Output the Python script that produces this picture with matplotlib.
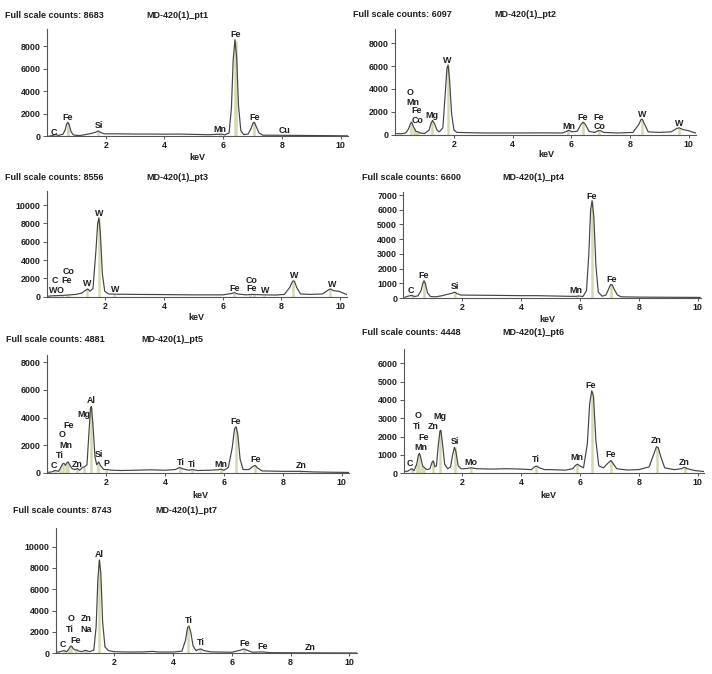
import matplotlib
matplotlib.use("Agg")
import matplotlib.pyplot as plt

# EDS spectra MD-420(1) pt1..pt7
# spectrum points: (keV, counts)
pt1_spectrum = [(0.05, 0), (0.15, 50), (0.28, 150), (0.4, 80), (0.55, 200), (0.62, 600), (0.67, 1100),
                (0.71, 1250), (0.76, 1000), (0.82, 400), (0.9, 120), (1.1, 60), (1.3, 150), (1.5, 250),
                (1.65, 350), (1.74, 480), (1.82, 350), (1.95, 220), (2.5, 220), (3, 200), (3.5, 200),
                (4, 190), (4.5, 200), (5, 170), (5.5, 140), (5.85, 180), (5.95, 200), (6.05, 120),
                (6.2, 300), (6.28, 2500), (6.34, 6800), (6.40, 8600), (6.46, 7000), (6.52, 2800),
                (6.6, 500), (6.7, 150), (6.85, 200), (6.95, 700), (7.02, 1200), (7.06, 1250),
                (7.12, 900), (7.22, 300), (7.35, 100), (8.0, 90), (8.5, 80), (9, 70), (9.5, 60), (10.25, 40)]
pt2_spectrum = [(0.05, 100), (0.2, 80), (0.35, 150), (0.45, 500), (0.52, 1000), (0.56, 1100), (0.62, 700),
                (0.7, 300), (0.78, 250), (0.85, 150), (1.0, 100), (1.15, 400), (1.22, 1000), (1.27, 1250),
                (1.33, 1000), (1.42, 400), (1.5, 250), (1.62, 600), (1.70, 3500), (1.76, 5800), (1.80, 6100),
                (1.85, 4800), (1.92, 1800), (2.0, 400), (2.1, 200), (3, 150), (4, 150), (5, 160), (5.7, 150),
                (5.85, 300), (5.92, 400), (6.0, 250), (6.2, 300), (6.33, 900), (6.40, 1100), (6.48, 900),
                (6.6, 300), (6.8, 200), (6.92, 350), (7.0, 350), (7.1, 200), (7.6, 150), (8.1, 200),
                (8.3, 900), (8.38, 1350), (8.42, 1350), (8.5, 900), (8.62, 250), (9.0, 200), (9.4, 250),
                (9.6, 550), (9.68, 600), (9.8, 450), (10.0, 350), (10.1, 250), (10.25, 150)]
pt3_spectrum = [(0.05, 50), (0.2, 100), (0.4, 120), (0.6, 150), (0.8, 200), (1.0, 250), (1.2, 400),
                (1.33, 700), (1.40, 850), (1.48, 600), (1.58, 900), (1.68, 5000), (1.74, 8000), (1.78, 8600),
                (1.83, 7000), (1.90, 2500), (1.98, 600), (2.1, 300), (2.3, 280), (3, 250), (4, 230), (5, 200),
                (6, 200), (6.3, 350), (6.40, 450), (6.5, 300), (6.8, 200), (7.0, 250), (7.4, 200), (7.8, 180),
                (8.1, 250), (8.28, 1000), (8.38, 1700), (8.44, 1700), (8.52, 1000), (8.65, 300), (9.0, 250),
                (9.4, 300), (9.58, 700), (9.67, 850), (9.78, 650), (9.95, 600), (10.1, 400), (10.25, 200)]
pt4_spectrum = [(0.05, 50), (0.15, 120), (0.28, 180), (0.38, 100), (0.5, 150), (0.6, 500), (0.66, 1000),
                (0.70, 1180), (0.75, 950), (0.82, 350), (0.92, 100), (1.1, 80), (1.3, 150), (1.5, 250),
                (1.66, 330), (1.74, 400), (1.82, 300), (1.95, 200), (2.5, 190), (3, 180), (3.5, 170),
                (4, 160), (4.5, 160), (5, 140), (5.5, 120), (5.85, 110), (5.95, 140), (6.1, 100), (6.22, 500),
                (6.3, 3000), (6.36, 6000), (6.41, 6620), (6.47, 5500), (6.54, 2200), (6.62, 400), (6.75, 120),
                (6.88, 200), (6.98, 650), (7.04, 920), (7.09, 900), (7.16, 600), (7.27, 200), (7.4, 80),
                (8, 60), (9, 50), (10.08, 40)]
pt5_spectrum = [(0.05, 50), (0.15, 80), (0.28, 180), (0.38, 120), (0.45, 350), (0.52, 650), (0.57, 700),
                (0.62, 550), (0.67, 750), (0.71, 800), (0.76, 600), (0.85, 300), (0.95, 250), (1.02, 330),
                (1.1, 200), (1.2, 400), (1.27, 450), (1.35, 600), (1.42, 3000), (1.47, 4700), (1.50, 4800),
                (1.55, 3600), (1.62, 1200), (1.68, 600), (1.75, 800), (1.82, 500), (1.92, 250), (2.02, 250),
                (2.2, 200), (2.5, 180), (3, 200), (3.5, 230), (4, 200), (4.35, 250), (4.5, 400), (4.6, 300),
                (4.8, 200), (4.93, 250), (5.1, 180), (5.5, 200), (5.8, 230), (5.9, 280), (6.0, 200),
                (6.15, 400), (6.28, 1800), (6.36, 3200), (6.41, 3350), (6.47, 2800), (6.55, 1000),
                (6.65, 250), (6.85, 250), (7.0, 500), (7.06, 550), (7.15, 350), (7.3, 150), (8, 120),
                (8.6, 120), (9, 80), (9.5, 60), (10.25, 40)]
pt6_spectrum = [(0.05, 100), (0.15, 120), (0.28, 250), (0.36, 150), (0.45, 500), (0.5, 950), (0.54, 1090),
                (0.58, 900), (0.65, 400), (0.72, 300), (0.8, 200), (0.9, 250), (0.97, 600), (1.01, 680),
                (1.07, 350), (1.12, 400), (1.18, 1500), (1.24, 2300), (1.27, 2350), (1.32, 1700), (1.4, 500),
                (1.5, 250), (1.6, 350), (1.67, 1000), (1.73, 1420), (1.78, 1200), (1.86, 400), (1.96, 250),
                (2.1, 250), (2.3, 300), (2.5, 250), (3, 230), (3.5, 250), (4, 230), (4.35, 200), (4.45, 350),
                (4.52, 400), (4.62, 300), (4.8, 200), (5, 200), (5.5, 170), (5.75, 250), (5.86, 450),
                (5.92, 500), (6.0, 400), (6.12, 300), (6.25, 1600), (6.33, 3800), (6.40, 4500), (6.46, 4200),
                (6.54, 1800), (6.64, 400), (6.8, 300), (6.95, 550), (7.05, 700), (7.12, 550), (7.25, 250),
                (7.6, 180), (8.0, 200), (8.35, 350), (8.5, 1000), (8.6, 1450), (8.66, 1400), (8.75, 900),
                (8.88, 300), (9.2, 200), (9.45, 250), (9.55, 330), (9.65, 250), (9.9, 150), (10.2, 100)]
pt7_spectrum = [(0.05, 100), (0.15, 150), (0.28, 250), (0.38, 150), (0.45, 400), (0.5, 650), (0.54, 680),
                (0.6, 450), (0.66, 300), (0.72, 320), (0.8, 200), (0.9, 150), (1.0, 280), (1.06, 250),
                (1.15, 150), (1.3, 300), (1.38, 2500), (1.44, 7000), (1.49, 8750), (1.54, 7500), (1.60, 3000),
                (1.68, 600), (1.8, 250), (2.0, 150), (2.5, 120), (3, 130), (3.3, 180), (3.5, 120), (4, 120),
                (4.3, 200), (4.42, 1200), (4.49, 2400), (4.54, 2560), (4.6, 2000), (4.68, 700), (4.78, 250),
                (4.88, 380), (4.95, 400), (5.05, 250), (5.3, 130), (6, 100), (6.3, 300), (6.4, 400),
                (6.5, 300), (6.7, 100), (7.06, 130), (7.3, 60), (8, 50), (9, 40), (10.25, 30)]

# element marker lines: (keV, counts)
pt1_markers = [(0.28, 120), (0.70, 1230), (0.73, 1150), (1.74, 450), (5.9, 190), (6.39, 8600), (6.42, 8500),
               (7.06, 1240), (8.04, 85)]
pt2_markers = [(0.52, 1000), (0.64, 600), (0.71, 300), (0.78, 250), (1.25, 1230), (1.78, 6000), (5.9, 400),
               (6.40, 1100), (6.93, 350), (8.40, 1350), (9.67, 600)]
pt3_markers = [(0.28, 100), (0.52, 140), (0.70, 190), (0.77, 200), (1.38, 850), (1.78, 8600), (2.3, 280),
               (6.40, 450), (6.93, 240), (7.06, 250), (7.4, 200), (8.40, 1700), (9.67, 850)]
pt4_markers = [(0.28, 170), (0.70, 1150), (1.74, 400), (5.9, 110), (6.40, 6600), (7.06, 900)]
pt5_markers = [(0.28, 170), (0.45, 350), (0.52, 650), (0.64, 600), (0.70, 800), (1.01, 330), (1.25, 440),
               (1.49, 4800), (1.74, 800), (2.01, 250), (4.51, 400), (4.93, 250), (5.9, 280), (6.40, 3350),
               (7.06, 550), (8.63, 110)]
pt6_markers = [(0.28, 250), (0.45, 500), (0.52, 1050), (0.64, 400), (0.70, 300), (1.01, 680), (1.25, 2350),
               (1.74, 1420), (2.29, 300), (4.51, 400), (5.9, 500), (6.40, 4500), (7.06, 700), (8.63, 1450),
               (9.57, 330)]
pt7_markers = [(0.28, 250), (0.45, 400), (0.52, 680), (0.70, 320), (1.01, 280), (1.04, 260), (1.49, 8750),
               (4.51, 2500), (4.93, 400), (6.40, 400), (7.06, 130), (8.63, 50)]

# element labels: (text, keV, counts at label centre)
pt1_labels = [("C", 0.22, 380), ("Fe", 0.69, 1700), ("Si", 1.76, 920), ("Mn", 5.9, 620),
              ("Fe", 6.41, 9100), ("Fe", 7.07, 1630), ("Cu", 8.08, 500)]
pt2_labels = [("O", 0.5, 3700), ("Mn", 0.6, 2860), ("Fe", 0.71, 2100), ("Co", 0.76, 1260),
              ("Mg", 1.24, 1640), ("W", 1.77, 6470), ("Mn", 5.91, 760), ("Fe", 6.38, 1520),
              ("Fe", 6.94, 1520), ("Co", 6.96, 700), ("W", 8.42, 1810), ("W", 9.66, 1000)]
pt3_labels = [("W", 0.21, 650), ("O", 0.46, 650), ("C", 0.29, 1740), ("Fe", 0.68, 1740),
              ("Co", 0.74, 2730), ("W", 1.39, 1460), ("W", 1.80, 9100), ("W", 2.33, 800),
              ("Fe", 6.42, 910), ("Co", 6.99, 1740), ("Fe", 6.99, 840), ("W", 7.45, 730),
              ("W", 8.44, 2330), ("W", 9.72, 1380)]
pt4_labels = [("C", 0.25, 480), ("Fe", 0.68, 1520), ("Si", 1.75, 750), ("Mn", 5.86, 480),
              ("Fe", 6.41, 6930), ("Fe", 7.07, 1290)]
pt5_labels = [("C", 0.24, 530), ("Ti", 0.44, 1300), ("Mn", 0.63, 2020), ("O", 0.5, 2750),
              ("Fe", 0.72, 3420), ("Zn", 1.02, 650), ("Mg", 1.23, 4240), ("Al", 1.49, 5270),
              ("Si", 1.76, 1370), ("P", 2.02, 700), ("Ti", 4.52, 770), ("Ti", 4.91, 630),
              ("Mn", 5.91, 650), ("Fe", 6.41, 3740), ("Fe", 7.07, 940), ("Zn", 8.63, 530)]
pt6_labels = [("C", 0.22, 510), ("Mn", 0.60, 1400), ("Fe", 0.68, 1960), ("Ti", 0.45, 2580),
              ("O", 0.5, 3130), ("Zn", 1.02, 2540), ("Mg", 1.24, 3100), ("Si", 1.75, 1720),
              ("Mo", 2.29, 580), ("Ti", 4.50, 730), ("Mn", 5.88, 870), ("Fe", 6.36, 4780),
              ("Fe", 7.04, 1000), ("Zn", 8.60, 1780), ("Zn", 9.54, 600)]
pt7_labels = [("C", 0.24, 780), ("O", 0.51, 3280), ("Ti", 0.49, 2250), ("Fe", 0.69, 1180),
              ("Zn", 1.03, 3280), ("Na", 1.03, 2250), ("Al", 1.49, 9280), ("Ti", 4.54, 3120),
              ("Ti", 4.95, 990), ("Fe", 6.42, 940), ("Fe", 7.05, 620), ("Zn", 8.66, 560)]

full_scale = [8683, 6097, 8556, 6600, 4881, 4448, 8743]
names = ["MD-420(1)_pt1", "MD-420(1)_pt2", "MD-420(1)_pt3", "MD-420(1)_pt4",
         "MD-420(1)_pt5", "MD-420(1)_pt6", "MD-420(1)_pt7"]
y_top = [9550, 9250, 11530, 7225, 8530, 6764, 11716]
x_right = [10.25, 10.25, 10.25, 10.1, 10.23, 10.2, 10.25]
y_step = [2000, 2000, 2000, 1000, 2000, 1000, 2000]
y_last = [8000, 8000, 10000, 7000, 8000, 6000, 10000]

spectra = [pt1_spectrum, pt2_spectrum, pt3_spectrum, pt4_spectrum, pt5_spectrum, pt6_spectrum, pt7_spectrum]
markers = [pt1_markers, pt2_markers, pt3_markers, pt4_markers, pt5_markers, pt6_markers, pt7_markers]
labels = [pt1_labels, pt2_labels, pt3_labels, pt4_labels, pt5_labels, pt6_labels, pt7_labels]

# layout in pixels: axes (left, top, right, bottom), header line y, header x's, keV label pos
W, H = 712, 674
boxes = [(47, 29, 348, 136.3), (395.3, 29, 696, 134.7), (46.6, 191, 347.5, 296.7),
         (403.4, 191.7, 700.7, 298), (47.2, 355, 348.5, 473), (403.5, 349.3, 703.5, 473.3),
         (55.6, 528.3, 356.7, 653.3)]
head_y = [15, 14.5, 177.3, 177.7, 339.3, 332.3, 510.7]
head_x1 = [5, 353, 5, 361.7, 6, 361.7, 13.3]
head_x2 = [146, 494, 146, 502.7, 141.7, 502.7, 155]
kev_pos = [(197, 157), (546, 154.3), (196.7, 317.3), (547.3, 319.3), (200, 496), (548, 495), None]

font = "Liberation Sans"
txt = "#1e1e1e"

fig = plt.figure(figsize=(W / 100, H / 100), dpi=100)

for i in range(7):
    l, t, r, b = boxes[i]
    ax = fig.add_axes([l / W, 1 - b / H, (r - l) / W, (b - t) / H])
    kx = [p[0] for p in spectra[i]]
    ky = [p[1] for p in spectra[i]]
    mx = [m[0] for m in markers[i]]
    my = [m[1] for m in markers[i]]
    ax.vlines(mx, 0, my, color="#d6d8b2", lw=1.8, zorder=1)
    ax.plot(kx, ky, color="#444444", lw=0.85, zorder=2)
    for s, x, y in labels[i]:
        ax.text(x, y, s, ha="center", va="center", fontsize=6.4, fontweight="bold",
                family=font, color=txt, zorder=3)
    ax.set_xlim(0, x_right[i])
    ax.set_ylim(0, y_top[i])
    ax.set_xticks([2, 4, 6, 8, 10])
    ax.set_yticks(range(0, y_last[i] + 1, y_step[i]))
    for sp in ["top", "right"]:
        ax.spines[sp].set_visible(False)
    for sp in ["left", "bottom"]:
        ax.spines[sp].set_color("#555555")
        ax.spines[sp].set_linewidth(0.8)
    ax.tick_params(axis="y", length=3, width=0.7, color="#555555", pad=1.5)
    ax.tick_params(axis="x", length=2, width=0.7, color="#555555", pad=1.5)
    for lab in ax.get_xticklabels() + ax.get_yticklabels():
        lab.set_fontsize(6.4)
        lab.set_fontweight("bold")
        lab.set_family(font)
        lab.set_color(txt)

    fig.text(head_x1[i] / W, 1 - head_y[i] / H, "Full scale counts: %d" % full_scale[i],
             ha="left", va="center", fontsize=6.5, fontweight="bold", family=font, color=txt)
    fig.text(head_x2[i] / W, 1 - head_y[i] / H, names[i],
             ha="left", va="center", fontsize=6.5, fontweight="bold", family=font, color=txt)
    if kev_pos[i] is not None:
        fig.text(kev_pos[i][0] / W, 1 - kev_pos[i][1] / H, "keV", ha="center", va="center",
                 fontsize=6.5, fontweight="bold", family=font, color=txt)

fig.savefig("out.png", dpi=100, facecolor="white")
